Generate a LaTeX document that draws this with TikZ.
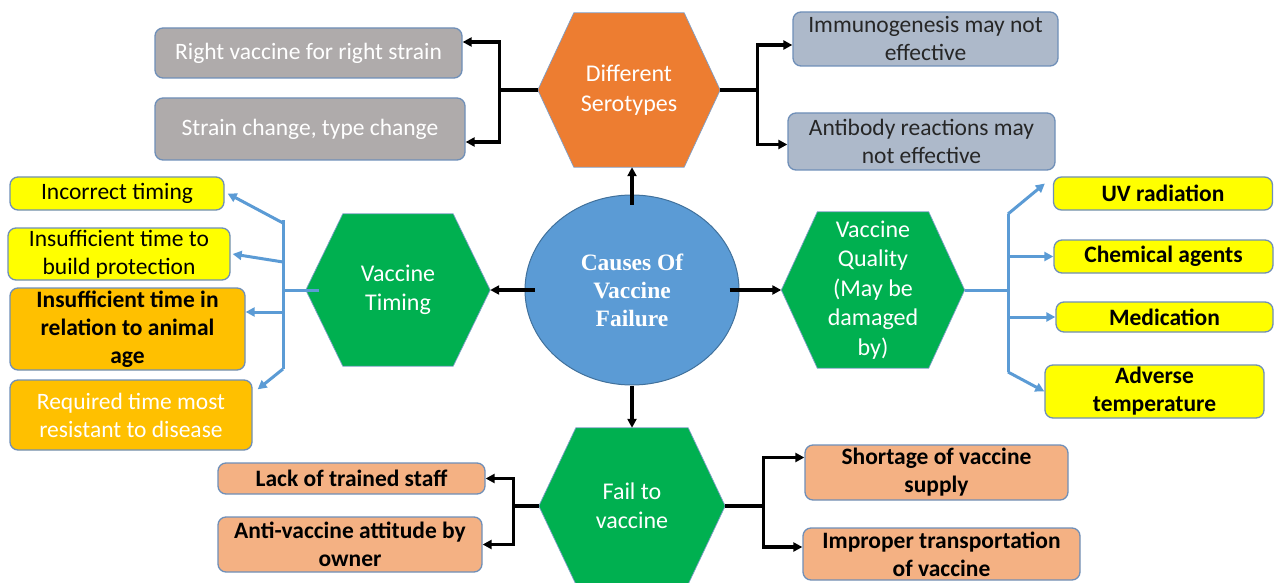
\documentclass[tikz,border=0pt]{standalone}
\usepackage{fontspec}
\setmainfont{Carlito}
\newfontfamily\serifbf{Liberation Serif}
\usetikzlibrary{arrows.meta,backgrounds,shapes.geometric}
\definecolor{grayc}{HTML}{AFABAB}
\definecolor{bgc}{HTML}{ADB9CA}
\definecolor{yelc}{HTML}{FFFF00}
\definecolor{goldc}{HTML}{FFC000}
\definecolor{salc}{HTML}{F4B183}
\definecolor{orangec}{HTML}{ED7D31}
\definecolor{greenc}{HTML}{00B050}
\definecolor{circc}{HTML}{5B9BD5}
\definecolor{circbord}{HTML}{41719C}
\definecolor{bordc}{HTML}{6F8FB8}
\definecolor{bluec}{HTML}{5B9BD5}
\definecolor{hexbord}{HTML}{7F9FC8}
\tikzset{
 box/.style={draw=bordc, line width=1.3pt, rounded corners=8pt, align=center, inner sep=1pt, font=\fontsize{23.5}{28}\selectfont},
 boxb/.style={box, font=\bfseries\fontsize{23.5}{28}\selectfont},
 hextxt/.style={inner sep=0pt, align=center, text=white, font=\fontsize{24}{29.5}\selectfont},
 blk/.style={line width=3.2pt, draw=black},
 blkarr/.style={blk, -{Triangle[length=9pt,width=9pt]}},
 blu/.style={line width=3pt, draw=bluec},
 bluarr/.style={blu, -{Triangle[length=9pt,width=9pt]}},
 hexfill/.style={draw=hexbord, line width=0.7pt}
}
\newcommand\myhex[3]{%
 \begin{scope}[on background layer]
 \path[hexfill, fill=#3] (#1.north west) -- (#1.north east) -- ([xshift=#2]#1.east) -- (#1.south east) -- (#1.south west) -- ([xshift=-#2]#1.west) -- cycle;
 \end{scope}}
\begin{document}
\begin{tikzpicture}[x=1pt,y=-1pt]
\useasboundingbox (0,0) rectangle (1275,583);

% hexagons
\node[hextxt, minimum width=110pt, minimum height=154pt] (ser) at (629,90) {Different\\Serotypes};
\myhex{ser}{36pt}{orangec}
\coordinate (serL) at ([xshift=-36pt]ser.west);
\coordinate (serR) at ([xshift=36pt]ser.east);

\node[hextxt, minimum width=110pt, minimum height=152pt] (tim) at (398,290) {Vaccine\\Timing};
\myhex{tim}{37pt}{greenc}
\coordinate (timL) at ([xshift=-37pt]tim.west);
\coordinate (timR) at ([xshift=37pt]tim.east);

\node[hextxt, minimum width=111pt, minimum height=156pt] (qual) at (873,290) {Vaccine\\Quality\\(May be\\damaged\\by)};
\myhex{qual}{36pt}{greenc}
\coordinate (qualL) at ([xshift=-36pt]qual.west);
\coordinate (qualR) at ([xshift=36pt]qual.east);

\node[hextxt, minimum width=112pt, minimum height=156pt] (fail) at (632,506) {Fail to\\vaccine};
\myhex{fail}{37pt}{greenc}
\coordinate (failL) at ([xshift=-37pt]fail.west);
\coordinate (failR) at ([xshift=37pt]fail.east);

% centre
\node[ellipse, fill=circc, draw=circbord, line width=1pt, minimum width=214pt, minimum height=190pt, inner sep=0pt, align=center, text=white, font=\serifbf\bfseries\fontsize{23.5}{28}\selectfont] (c) at (632,290) {Causes Of\\Vaccine\\Failure};

% top boxes
\node[box, fill=grayc, text=white, minimum width=307pt, minimum height=50pt] (g1) at (308.5,53) {Right vaccine for right strain};
\node[box, fill=grayc, text=white, minimum width=310pt, minimum height=62pt] (g2) at (310,129) {Strain change, type change};
\node[box, fill=bgc, text=black!85, minimum width=265pt, minimum height=54pt] (b1) at (925.5,39) {Immunogenesis may not\\effective};
\node[box, fill=bgc, text=black!85, minimum width=267pt, minimum height=57pt] (b2) at (921.5,141.5) {Antibody reactions may\\not effective};

% left boxes
\node[box, fill=yelc, minimum width=214pt, minimum height=33pt] (y1) at (117,193.5) {Incorrect timing};
\node[box, fill=yelc, minimum width=222pt, minimum height=52pt] (y2) at (119,254) {Insufficient time to\\build protection};
\node[boxb, fill=goldc, minimum width=235pt, minimum height=82pt] (o1) at (127.5,329) {Insufficient time in\\relation to animal\\age};
\node[box, fill=goldc, text=white, minimum width=242pt, minimum height=70pt] (o2) at (131,415) {Required time most\\resistant to disease};

% right boxes
\node[boxb, fill=yelc, minimum width=219pt, minimum height=33pt] (r1) at (1163,193.5) {UV radiation};
\node[boxb, fill=yelc, minimum width=219pt, minimum height=33pt] (r2) at (1163.5,256.5) {Chemical agents};
\node[boxb, fill=yelc, minimum width=217pt, minimum height=30pt] (r3) at (1164.5,317) {Medication};
\node[boxb, fill=yelc, minimum width=219pt, minimum height=53pt] (r4) at (1154.5,391.5) {Adverse\\temperature};

% bottom boxes
\node[boxb, fill=salc, minimum width=267pt, minimum height=31pt] (s1) at (351.5,478.5) {Lack of trained staff};
\node[boxb, fill=salc, minimum width=264pt, minimum height=55pt] (s2) at (350,544.5) {Anti-vaccine attitude by\\owner};
\node[boxb, fill=salc, minimum width=263pt, minimum height=55pt] (s3) at (936.5,472.5) {Shortage of vaccine\\supply};
\node[boxb, fill=salc, minimum width=277pt, minimum height=52pt] (s4) at (941.5,554) {Improper transportation\\of vaccine};

% black connectors: serotypes
\draw[blk] (serL) -- ++(-38,0) coordinate (sj);
\draw[blkarr] (sj) |- ([yshift=11pt]g1.east);
\draw[blkarr] (sj) |- ([yshift=-13pt]g2.east);
\draw[blk] (serR) -- ++(37,0) coordinate (sk);
\draw[blkarr] (sk) |- ([yshift=-6pt]b1.west);
\draw[blkarr] (sk) |- ([yshift=-3pt]b2.west);

% centre arrows
\draw[blkarr] ([yshift=-10pt]c.north) -- (c.north |- ser.south);
\draw[blkarr] ([xshift=10pt]c.west) -- (timR);
\draw[blkarr] ([xshift=-10pt]c.east) -- (qualL);
\draw[blkarr] (c.south) -- (c.south |- fail.north);

% blue connectors: timing
\coordinate (tj) at (283,290);
\coordinate (tt) at (283,220);
\coordinate (tb) at (283,369);
\coordinate (t1) at (283,223);
\coordinate (t2) at (283,262);
\coordinate (t3) at (283,312);
\draw[blu] ([xshift=13pt]timL) -- (tj);
\draw[blu] (tt) -- (tb);
\draw[bluarr] (t1) -- ([xshift=3pt]y1.east);
\draw[bluarr] (t2) -- ([xshift=2pt]y2.east);
\draw[bluarr] (t3) -- ([yshift=17pt]o1.east);
\draw[bluarr] (tb) -- ([xshift=5pt,yshift=-10pt]o2.north east);

% blue connectors: quality
\coordinate (qj) at (1008,290);
\coordinate (qt) at (1008,214);
\coordinate (qb) at (1008,372);
\draw[blu] (qualR) -- (qj);
\draw[blu] (qt) -- (qb);
\draw[bluarr] (qt) -- ([xshift=-8pt,yshift=10pt]r1.west);
\draw[bluarr] (qj |- r2.west) -- (r2.west);
\draw[bluarr] (qj |- r3.west) -- (r3.west);
\draw[bluarr] (qb) -- (r4.west);

% black connectors: fail
\draw[blk] (failL) -- ++(-25,0) coordinate (fj);
\draw[blkarr] (fj) |- (s1.east);
\draw[blkarr] (fj) |- (s2.east);
\draw[blk] (failR) -- ++(38,0) coordinate (fk);
\draw[blkarr] (fk) |- ([yshift=15pt]s3.west);
\draw[blkarr] (fk) |- ([yshift=7pt]s4.west);
\end{tikzpicture}
\end{document}
